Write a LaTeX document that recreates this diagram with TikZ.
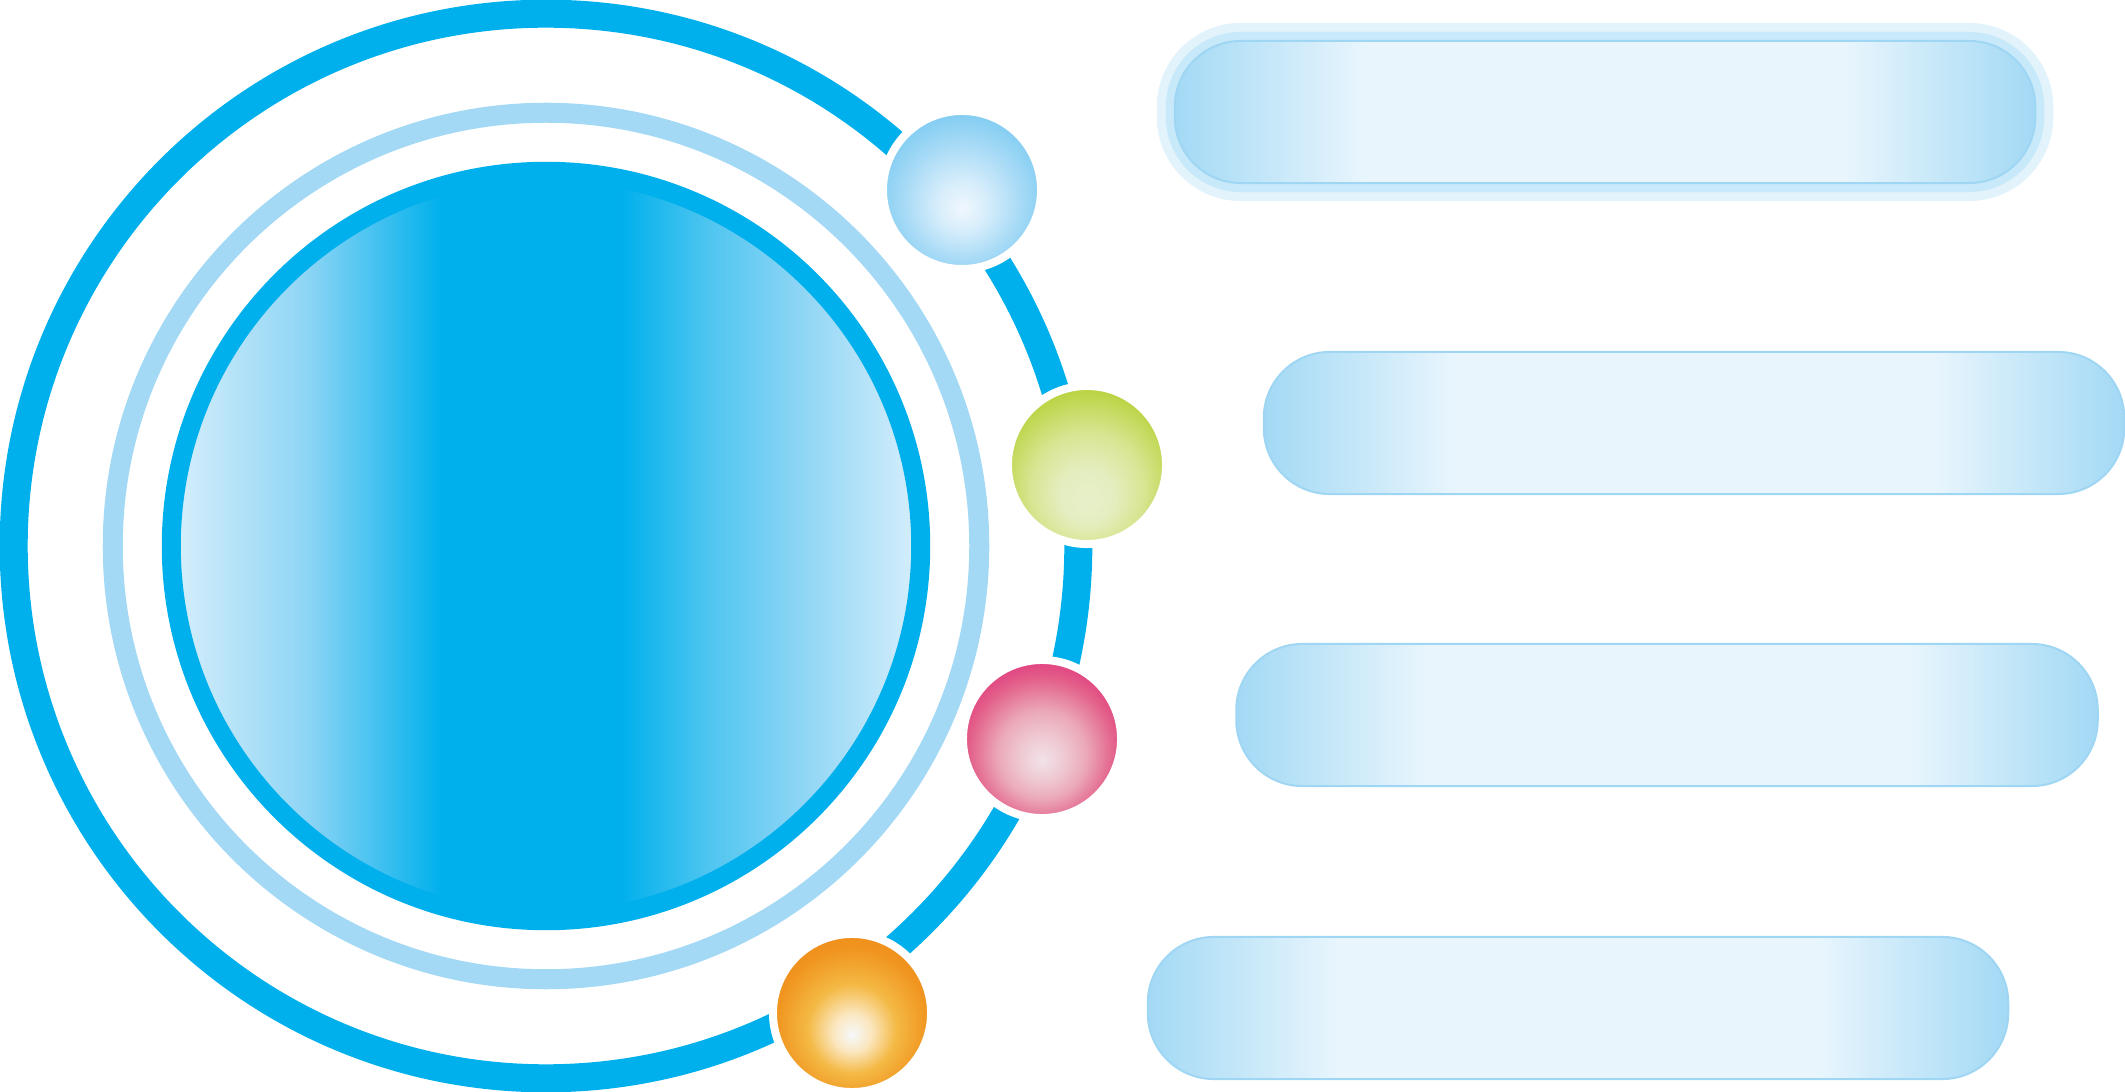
\documentclass[tikz,border=0pt]{standalone}

\definecolor{ringblue}{HTML}{00B0EC}
\definecolor{ringlight}{HTML}{A3D9F5}
\definecolor{corepale}{HTML}{D8EFFB}
\definecolor{coremid}{HTML}{8ED5F5}
\definecolor{coremidr}{HTML}{50C6F0}
\definecolor{barend}{HTML}{A3D9F5}
\definecolor{barsoft}{HTML}{C2E6F8}
\definecolor{barmid}{HTML}{E8F5FD}
\definecolor{barline}{HTML}{9FD6F3}
\definecolor{glowa}{HTML}{E2F3FC}
\definecolor{glowb}{HTML}{C8E9F9}
% bead colours
\definecolor{blueA}{HTML}{F0F7FD}\definecolor{blueB}{HTML}{D6EDFB}
\definecolor{blueC}{HTML}{A9DBF6}\definecolor{blueD}{HTML}{82CDF2}
\definecolor{greenA}{HTML}{E8F0CB}\definecolor{greenB}{HTML}{E4EDBE}
\definecolor{greenC}{HTML}{D8E592}\definecolor{greenD}{HTML}{BCD548}
\definecolor{greenE}{HTML}{A9CC1E}
\definecolor{pinkA}{HTML}{F2E3E9}\definecolor{pinkB}{HTML}{EEC5CF}
\definecolor{pinkC}{HTML}{EBA8B8}\definecolor{pinkD}{HTML}{E3608A}
\definecolor{pinkE}{HTML}{E02D7A}
\definecolor{orangeA}{HTML}{F5F8FB}\definecolor{orangeB}{HTML}{FBE7C0}
\definecolor{orangeC}{HTML}{F4B945}\definecolor{orangeD}{HTML}{F0951F}
\definecolor{orangeE}{HTML}{EF8A1B}

\pgfdeclarehorizontalshading{corefill}{100bp}{color(0bp)=(corepale); color(25bp)=(corepale);
  color(34bp)=(coremid); color(43bp)=(ringblue); color(55bp)=(ringblue); color(61bp)=(coremidr);
  color(67bp)=(coremid); color(75bp)=(corepale); color(100bp)=(corepale)}
\pgfdeclarehorizontalshading{barfill}{100bp}{color(0bp)=(barend); color(25bp)=(barend);
  color(30bp)=(barsoft); color(36bp)=(barmid); color(64bp)=(barmid); color(70bp)=(barsoft);
  color(75bp)=(barend); color(100bp)=(barend)}
\pgfdeclareradialshading{beadblue}{\pgfpoint{0bp}{-6bp}}{color(0bp)=(blueA); color(8bp)=(blueB);
  color(18bp)=(blueC); color(27bp)=(blueD); color(50bp)=(blueD)}
\pgfdeclareradialshading{beadgreen}{\pgfpoint{0bp}{-12bp}}{color(0bp)=(greenA); color(9bp)=(greenB);
  color(18bp)=(greenC); color(28bp)=(greenD); color(37bp)=(greenE); color(50bp)=(greenE)}
\pgfdeclareradialshading{beadpink}{\pgfpoint{0bp}{-7bp}}{color(0bp)=(pinkA); color(8bp)=(pinkB);
  color(14bp)=(pinkC); color(23bp)=(pinkD); color(31bp)=(pinkE); color(50bp)=(pinkE)}
\pgfdeclareradialshading{beadorange}{\pgfpoint{0bp}{-7bp}}{color(0bp)=(orangeA); color(6bp)=(orangeB);
  color(14bp)=(orangeC); color(24bp)=(orangeD); color(32bp)=(orangeE); color(50bp)=(orangeE)}

\tikzstyle{orbit}=[circle, inner sep=0pt]
\tikzstyle{bead}=[circle, draw=white, line width=0.08cm, inner sep=0pt, minimum size=1.58cm]
\tikzstyle{bar}=[rectangle, draw=barline, line width=0.02cm, rounded corners=0.66cm, inner sep=0pt,
  minimum width=8.6cm, minimum height=1.42cm, shading=barfill]
\tikzstyle{glow}=[rectangle, inner sep=0pt]

\begin{document}
\begin{tikzpicture}[x=0.01cm, y=-0.01cm]
\useasboundingbox (0,0) rectangle (2125,1092);
% rings
\node[orbit, draw=ringblue, line width=0.28cm, minimum size=10.64cm] (outer) at (546,546) {};
\node[orbit, draw=ringlight, line width=0.2cm, minimum size=8.66cm] (middle) at (546,546) {};
\node[orbit, draw=ringblue, line width=0.19cm, minimum size=7.49cm, shading=corefill] (core) at (546,546) {};
% beads on the outer ring
\node[bead, shading=beadblue]   (b1) at (962,190) {};
\node[bead, shading=beadgreen]  (b2) at (1087,465) {};
\node[bead, shading=beadpink]   (b3) at (1042,739) {};
\node[bead, shading=beadorange] (b4) at (852,1013) {};
% bars, the first one with a soft glow
\node[glow, fill=glowa, minimum width=8.96cm, minimum height=1.78cm, rounded corners=0.84cm] (g1) at (1605,112) {};
\node[glow, fill=glowb, minimum width=8.78cm, minimum height=1.6cm, rounded corners=0.75cm] (g2) at (1605,112) {};
\node[bar] (r1) at (1605,112) {};
\node[bar] (r2) at (1694,423) {};
\node[bar, minimum width=8.61cm] (r3) at (1667,715) {};
\node[bar] (r4) at (1578,1008) {};
\end{tikzpicture}
\end{document}
